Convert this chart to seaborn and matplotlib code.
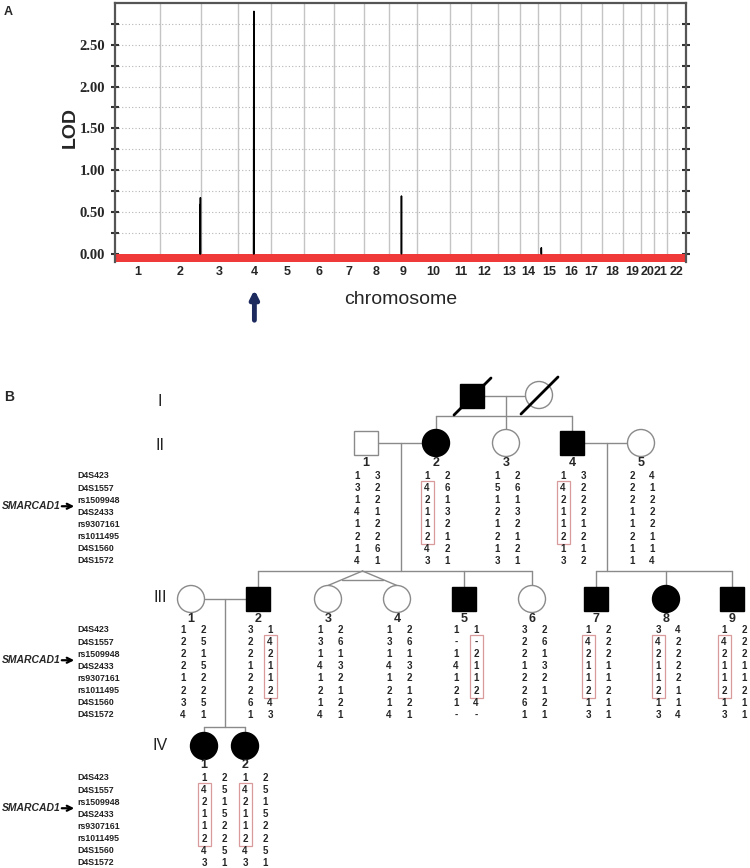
import numpy as np
import pandas as pd
import seaborn as sns
import matplotlib
matplotlib.use("Agg")
from matplotlib import pyplot as plt
from matplotlib.patches import Rectangle, Circle


# # Data

# panel A: genome-wide linkage scan
chrom_names = [str(c) for c in range(1, 23)]
chrom_len = [279, 261, 231, 204, 210, 186, 189, 156, 174, 210, 129,
             171, 135, 111, 144, 129, 132, 129, 114, 81, 81, 120]   # cM

peak_chrom = [2, 2, 4, 4, 9, 15]
peak_cm = [254, 256, 98, 99, 78, 24]
peak_lod = [0.59, 0.67, 2.31, 2.90, 0.69, 0.07]

# panel B: pedigree
markers = ["D4S423", "D4S1557", "rs1509948", "D4S2433",
           "rs9307161", "rs1011495", "D4S1560", "D4S1572"]

ped_ids = ["I-1", "I-2",
           "II-1", "II-2", "II-3", "II-4", "II-5",
           "III-1", "III-2", "III-3", "III-4", "III-5", "III-6", "III-7", "III-8", "III-9",
           "IV-1", "IV-2"]
ped_sex = ["m", "f",
           "m", "f", "f", "m", "f",
           "f", "m", "f", "f", "m", "f", "m", "f", "m",
           "f", "f"]
ped_affected = [1, 0,
                0, 1, 0, 1, 0,
                0, 1, 0, 0, 1, 0, 1, 1, 1,
                1, 1]
ped_deceased = ["I-1", "I-2"]

# two alleles per marker, top to bottom
haplotypes = {
    "II-1":  ["1 3", "3 2", "1 2", "4 1", "1 2", "2 2", "1 6", "4 1"],
    "II-2":  ["1 2", "4 6", "2 1", "1 3", "1 2", "2 1", "4 2", "3 1"],
    "II-3":  ["1 2", "5 6", "1 1", "2 3", "1 2", "2 1", "1 2", "3 1"],
    "II-4":  ["1 3", "4 2", "2 2", "1 2", "1 1", "2 2", "1 1", "3 2"],
    "II-5":  ["2 4", "2 1", "2 2", "1 2", "1 2", "2 1", "1 1", "1 4"],
    "III-1": ["1 2", "2 5", "2 1", "2 5", "1 2", "2 2", "3 5", "4 1"],
    "III-2": ["3 1", "2 4", "2 2", "1 1", "2 1", "2 2", "6 4", "1 3"],
    "III-3": ["1 2", "3 6", "1 1", "4 3", "1 2", "2 1", "1 2", "4 1"],
    "III-4": ["1 2", "3 6", "1 1", "4 3", "1 2", "2 1", "1 2", "4 1"],
    "III-5": ["1 1", "- -", "1 2", "4 1", "1 1", "2 2", "1 4", "- -"],
    "III-6": ["3 2", "2 6", "2 1", "1 3", "2 2", "2 1", "6 2", "1 1"],
    "III-7": ["1 2", "4 2", "2 2", "1 1", "1 1", "2 2", "1 1", "3 1"],
    "III-8": ["3 4", "4 2", "2 2", "1 2", "1 2", "2 1", "1 1", "3 4"],
    "III-9": ["1 2", "4 2", "2 2", "1 1", "1 1", "2 2", "1 1", "3 1"],
    "IV-1":  ["1 2", "4 5", "2 1", "1 5", "1 2", "2 2", "4 5", "3 1"],
    "IV-2":  ["1 2", "4 5", "2 1", "1 5", "1 2", "2 2", "4 5", "3 1"],
}

# disease haplotype (which allele column is boxed)
risk_haplo = [("II-2", 0), ("II-4", 0), ("III-2", 1), ("III-5", 1),
              ("III-7", 0), ("III-8", 0), ("III-9", 0), ("IV-1", 0), ("IV-2", 0)]

# matings: father, mother, children, twins
matings = [("I-1", "I-2", ["II-2", "II-3", "II-4"]),
           ("II-1", "II-2", ["III-2", ("III-3", "III-4"), "III-5", "III-6"]),
           ("II-4", "II-5", ["III-7", "III-8", "III-9"]),
           ("III-2", "III-1", ["IV-1", "IV-2"])]


# # Layout (pixels on a 750 x 868 canvas)

pos = {"I-1": (472, 396), "I-2": (539, 395),
       "II-1": (366, 443), "II-2": (436, 443), "II-3": (506, 443),
       "II-4": (572, 443), "II-5": (641, 443),
       "III-1": (191, 599), "III-2": (258, 599), "III-3": (328, 599),
       "III-4": (397, 599), "III-5": (464, 599), "III-6": (532, 599),
       "III-7": (596, 599), "III-8": (666, 599), "III-9": (732, 599),
       "IV-1": (204, 746), "IV-2": (245, 746)}
sib_y = {"I-1": 416, "II-1": 571, "II-4": 571, "III-2": 727}
gen_rows = {"II": 476, "III": 630, "IV": 778}
gen_offset = {"II": 1, "III": 2, "IV": 10}
gen_num_dy = {"II": 20, "III": 20, "IV": 18.5}
gen_label_y = {"I": 402, "II": 445, "III": 598, "IV": 746}
row_step = 12.1
half = 12
rad = 13.5
line_col = "#8a8a8a"

sex = dict(zip(ped_ids, ped_sex))
aff = dict(zip(ped_ids, ped_affected))

sns.set_theme(style="white")
plt.rcParams["font.family"] = ["Liberation Sans", "DejaVu Sans"]

fig = plt.figure(figsize=(7.5, 8.68), dpi=100)

axb = fig.add_axes([0, 0, 1, 1])
axb.set_xlim(0, 750)
axb.set_ylim(868, 0)
axb.axis("off")
axb.patch.set_alpha(0)


# # Panel A: LOD plot

axa = fig.add_axes([115 / 750, 1 - 262 / 868, 571 / 750, 259 / 868])
starts = np.concatenate([[0], np.cumsum(chrom_len)[:-1]])
centers = starts + np.array(chrom_len) / 2
total = float(np.sum(chrom_len))

gpos = starts[np.array(peak_chrom) - 1] + np.array(peak_cm)
rows = []
for i, (g, l) in enumerate(zip(gpos, peak_lod)):
    rows += [dict(peak=i, pos=g - 1.2, lod=0.0), dict(peak=i, pos=g, lod=l),
             dict(peak=i, pos=g + 1.2, lod=0.0)]
lod_df = pd.DataFrame(rows)

for b in np.cumsum(chrom_len)[:-1]:
    axa.axvline(b, color="#c4c4c4", lw=1, zorder=0.5)
for yy in np.arange(0.25, 3.0, 0.25):
    axa.axhline(yy, color="#b5b5b5", lw=0.8, ls=(0, (1, 2)), zorder=0.4)

sns.lineplot(data=lod_df, x="pos", y="lod", units="peak", estimator=None,
             sort=False, color="black", lw=1.1, ax=axa, zorder=3)
axa.fill_between([0, total], -0.1, 0.0, color="#f03a3a", lw=0, zorder=2)

axa.set_xlim(0, total)
axa.set_ylim(-0.1, 3.0)
axa.set_yticks(np.arange(0, 2.51, 0.5))
axa.set_yticklabels(["%.2f" % v for v in np.arange(0, 2.51, 0.5)],
                    family="Liberation Serif", weight="bold", fontsize=10.5)
axa.set_yticks(np.arange(0.25, 3.0, 0.5), minor=True)
axa.tick_params(axis="y", which="both", direction="inout", length=6, width=1.5,
                color="#333333", left=True, right=True, pad=4)
axa.set_xticks(centers)
axa.set_xticklabels(chrom_names, weight="bold", fontsize=9)
axa.tick_params(axis="x", length=0, pad=3)
axa.set_xlabel("chromosome", fontsize=14, labelpad=9)
axa.set_ylabel("LOD", fontsize=14, weight="bold")
axa.yaxis.set_label_coords(-0.063, 0.52)
axa.spines["bottom"].set_visible(False)
for s in ["left", "right", "top"]:
    axa.spines[s].set_color("#555555")
    axa.spines[s].set_linewidth(1.6)

axb.text(4, 12, "A", fontsize=9, weight="bold", ha="left", va="center")
ax4 = centers[3] / total * 571 + 115
axb.annotate("", xy=(ax4, 287), xytext=(ax4, 323),
             arrowprops=dict(arrowstyle="-|>", color="#1c2a5e", lw=3.5, mutation_scale=12))


# # Panel B: pedigree

axb.text(4, 397, "B", fontsize=10, weight="bold", ha="left", va="center")
for g, yy in gen_label_y.items():
    axb.text(160, yy, g, fontsize=11.5, ha="center", va="center", color="#222222")


def top_of(pid):
    x, y = pos[pid]
    return y - (half if sex[pid] == "m" else rad)


def edge_x(pid, side):
    x, y = pos[pid]
    return x + side * (half if sex[pid] == "m" else rad)


# mating lines, descent, sibship
for p1, p2, kids in matings:
    a, b = sorted([p1, p2], key=lambda p: pos[p][0])
    my = pos[a][1]
    axb.plot([edge_x(a, 1), edge_x(b, -1)], [my, my], color=line_col, lw=1)
    mx = (pos[a][0] + pos[b][0]) / 2
    sy = sib_y[p1]
    axb.plot([mx, mx], [my, sy], color=line_col, lw=1)
    xs = [mx]
    for k in kids:
        if isinstance(k, tuple):
            tx = [pos[t][0] for t in k]
            apex = np.mean(tx)
            xs.append(apex)
            ends = [(pos[t][0], top_of(t)) for t in k]
            for ex, ey in ends:
                axb.plot([apex, ex], [sy, ey], color=line_col, lw=1)
            f = 0.6
            axb.plot([apex + f * (ends[0][0] - apex), apex + f * (ends[1][0] - apex)],
                     [sy + f * (ends[0][1] - sy)] * 2, color=line_col, lw=1)
        else:
            kx = pos[k][0]
            xs.append(kx)
            axb.plot([kx, kx], [sy, top_of(k)], color=line_col, lw=1)
    axb.plot([min(xs), max(xs)], [sy, sy], color=line_col, lw=1)

# symbols
for pid in ped_ids:
    x, y = pos[pid]
    fc = "black" if aff[pid] else "white"
    ec = "black" if aff[pid] else "#8a8a8a"
    if sex[pid] == "m":
        axb.add_patch(Rectangle((x - half, y - half), 2 * half, 2 * half,
                                fc=fc, ec=ec, lw=1, zorder=3))
    else:
        axb.add_patch(Circle((x, y), rad, fc=fc, ec=ec, lw=1, zorder=3))
    if pid in ped_deceased:
        axb.plot([x - 18, x + 19], [y + 19, y - 18], color="black", lw=2, zorder=4)
    gen, num = pid.split("-")
    if gen != "I":
        axb.text(x, y + gen_num_dy[gen], num, fontsize=9, weight="bold",
                 ha="center", va="center")

# marker names
for gen, y0 in gen_rows.items():
    for i, m in enumerate(markers):
        axb.text(77, y0 + i * row_step, m, fontsize=6.3, weight="bold",
                 ha="left", va="center", color="#222222")
    ym = y0 + 2.5 * row_step
    axb.text(2, ym, "SMARCAD1", fontsize=7.5, weight="bold", style="italic",
             ha="left", va="center")
    axb.annotate("", xy=(77, ym), xytext=(59, ym),
                 arrowprops=dict(arrowstyle="->", color="black", lw=1.6, mutation_scale=9))

# genotypes
col_x = {}
for pid, geno in haplotypes.items():
    gen = pid.split("-")[0]
    c = pos[pid][0] + gen_offset[gen]
    col_x[pid] = (c - 10, c + 10)
    y0 = gen_rows[gen]
    for i, pair in enumerate(geno):
        a, b = pair.split()
        axb.text(c - 10, y0 + i * row_step, a, fontsize=7, weight="bold",
                 ha="center", va="center")
        axb.text(c + 10, y0 + i * row_step, b, fontsize=7, weight="bold",
                 ha="center", va="center")

for pid, col in risk_haplo:
    gen = pid.split("-")[0]
    y0 = gen_rows[gen]
    x = col_x[pid][col]
    axb.add_patch(Rectangle((x - 6.5, y0 + row_step - 7), 13, 4 * row_step + 14,
                            fill=False, ec="#d89a9a", lw=0.9))

fig.savefig("out.png", dpi=100)
